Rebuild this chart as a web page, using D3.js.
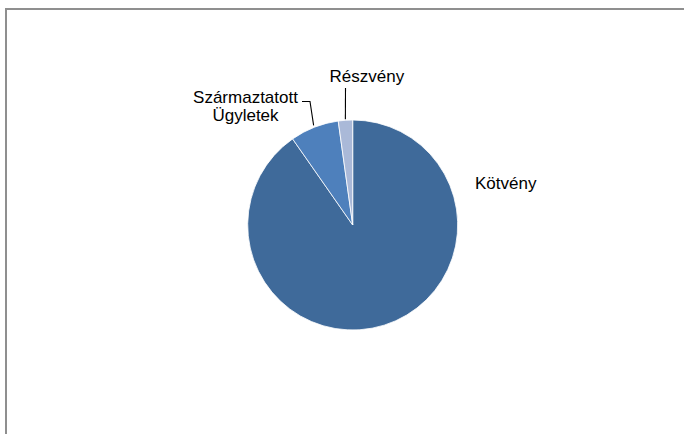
<!DOCTYPE html>
<html>
<head>
<meta charset="utf-8">
<script src="https://cdn.jsdelivr.net/npm/d3@7"></script>
<style>
  html, body { margin: 0; padding: 0; background: #fff; }
  svg { display: block; }
  text { font-family: "Liberation Sans", Arial, sans-serif; font-size: 17px; fill: #000; }
</style>
</head>
<body>
<svg id="chart" width="684" height="434"></svg>
<script>
const categories = ["Kötvény", "Származtatott Ügyletek", "Részvény"];
const values = [90.3, 7.5, 2.2];
const colors = ["#3F6A9A", "#4E80BC", "#AAB9D8"];

const svg = d3.select("#chart");
const W = 684, H = 434;

// outer chart border
svg.append("path")
  .attr("d", `M6,${H + 5} V9 H${W + 5}`)
  .attr("fill", "none")
  .attr("stroke", "#8f8f8f")
  .attr("stroke-width", 2);

const cx = 352.7, cy = 225, r = 105;
const g = svg.append("g").attr("transform", `translate(${cx},${cy})`);

const pie = d3.pie().sort(null).value(d => d.v);
const data = pie(categories.map((c, i) => ({ c, v: values[i], col: colors[i] })));
const arc = d3.arc().innerRadius(0).outerRadius(r);

g.selectAll("path.slice").data(data).enter().append("path")
  .attr("class", "slice")
  .attr("d", arc)
  .attr("fill", d => d.data.col)
  .attr("stroke", "#ffffff")
  .attr("stroke-width", 0.8);

function pt(angle, rad) {
  return [cx + rad * Math.sin(angle), cy - rad * Math.cos(angle)];
}
const mid = d => (d.startAngle + d.endAngle) / 2;

// Kötvény label
svg.append("text").attr("x", 475).attr("y", 189).text(categories[0]);

// Származtatott Ügyletek label (two lines, centered)
const t2 = svg.append("text").attr("text-anchor", "middle");
t2.append("tspan").attr("x", 245.5).attr("y", 103).text("Származtatott");
t2.append("tspan").attr("x", 245.5).attr("y", 121).text("Ügyletek");

// leader for Származtatott
const p1 = pt(mid(data[1]), r + 2);
svg.append("path")
  .attr("d", `M302,101.5 H310 L${p1[0]},${p1[1]}`)
  .attr("fill", "none").attr("stroke", "#000").attr("stroke-width", 1.1);

// Részvény label
svg.append("text").attr("x", 329.5).attr("y", 81.5).text(categories[2]);
const p2 = pt(mid(data[2]), r + 1);
svg.append("path")
  .attr("d", `M345.5,88 L${p2[0]},${p2[1]}`)
  .attr("fill", "none").attr("stroke", "#000").attr("stroke-width", 1.1);
</script>
</body>
</html>
